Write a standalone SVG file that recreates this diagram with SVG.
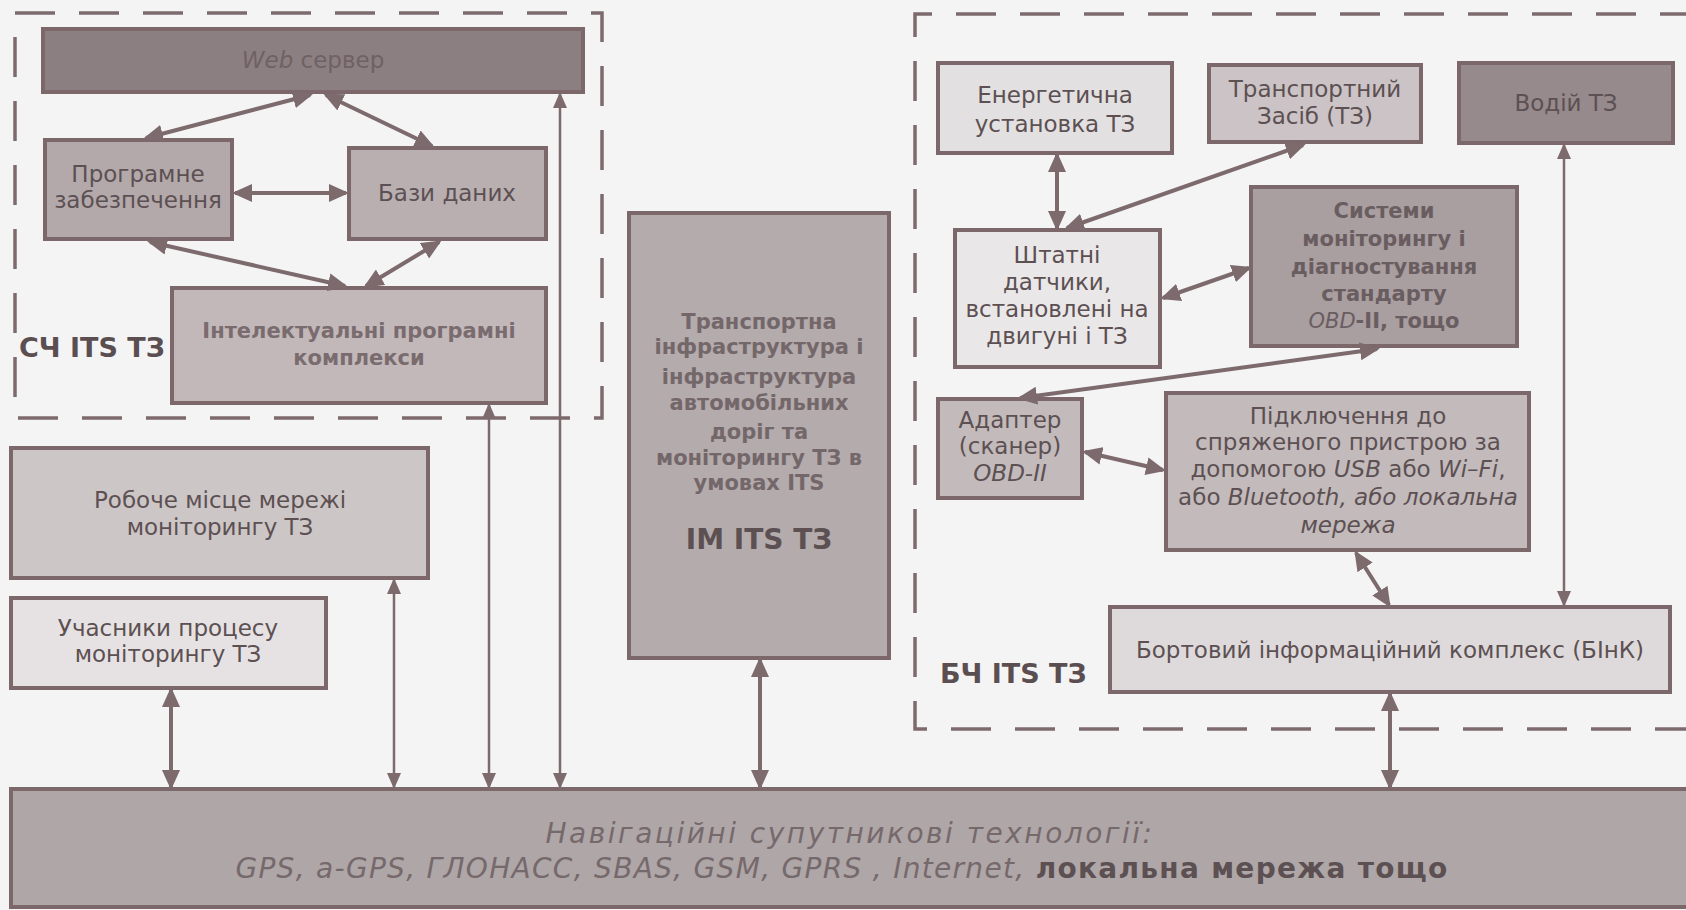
<svg xmlns="http://www.w3.org/2000/svg" width="1686" height="910" viewBox="0 0 1686 910">
<defs>
<style>
.bx{stroke:#7c686b;stroke-width:4}
.t{font-family:"DejaVu Sans","Open Sans",sans-serif;font-size:23px;fill:#5c5052;text-anchor:middle}
.bt{font-family:"DejaVu Sans","Open Sans",sans-serif;font-size:21px;font-weight:bold;text-anchor:middle}
.b{font-weight:bold}
.i{font-style:italic}
.lbl{font-family:"DejaVu Sans","Open Sans",sans-serif;font-size:27px;font-weight:bold;fill:#5a4e50}
.dash{fill:none;stroke:#7c6a6d;stroke-width:3.5;stroke-dasharray:40 24}
.k{fill:none;stroke:#7c6a6d;stroke-width:4;marker-start:url(#ah);marker-end:url(#ah)}
.n{fill:none;stroke:#7c6a6d;stroke-width:2.5;marker-start:url(#as);marker-end:url(#as)}
</style>
<marker id="ah" markerUnits="userSpaceOnUse" markerWidth="20" markerHeight="18" refX="17" refY="9" orient="auto-start-reverse"><path d="M0,0 L20,9 L0,18 z" fill="#7c6a6d"/></marker>
<marker id="as" markerUnits="userSpaceOnUse" markerWidth="16" markerHeight="14" refX="14" refY="7" orient="auto-start-reverse"><path d="M0,0 L16,7 L0,14 z" fill="#7c6a6d"/></marker>
</defs>
<rect width="1686" height="910" fill="#f5f4f5"/>

<g id="containers">
<rect class="dash" x="15" y="13" width="587" height="405"/>
<path class="dash" d="M1700,14 H915 V729 H1700"/>
<text class="lbl" x="19" y="357">СЧ ITS ТЗ</text>
<text class="lbl" x="940" y="683">БЧ ITS ТЗ</text>
</g>

<g id="web">
<rect class="bx" x="43" y="29" width="540" height="63" fill="#8c7f81"/>
<text class="t" x="313" y="68" style="fill:#6f6264"><tspan class="i">Web</tspan> сервер</text>
</g>
<g id="prog">
<rect class="bx" x="45" y="140" width="187" height="99" fill="#b3a9ab"/>
<text class="t" x="138" y="182">Програмне</text>
<text class="t" x="138" y="208">забезпечення</text>
</g>
<g id="bazy">
<rect class="bx" x="349" y="148" width="197" height="91" fill="#b9afb1"/>
<text class="t" x="447" y="201">Бази даних</text>
</g>
<g id="intel">
<rect class="bx" x="172" y="288" width="374" height="115" fill="#c2b8ba"/>
<text class="bt" x="359" y="338" style="fill:#7a6c6e">Інтелектуальні програмні</text>
<text class="bt" x="359" y="365" style="fill:#7a6c6e">комплекси</text>
</g>
<g id="robo">
<rect class="bx" x="11" y="448" width="417" height="130" fill="#cdc6c7"/>
<text class="t" x="220" y="508">Робоче місце мережі</text>
<text class="t" x="220" y="535">моніторингу ТЗ</text>
</g>
<g id="uch">
<rect class="bx" x="11" y="598" width="315" height="90" fill="#e6e2e3"/>
<text class="t" x="168" y="636">Учасники процесу</text>
<text class="t" x="168" y="662">моніторингу ТЗ</text>
</g>
<g id="im">
<rect class="bx" x="629" y="213" width="260" height="445" fill="#b3abac"/>
<g class="bt" style="fill:#74676a">
<text x="759" y="329">Транспортна</text>
<text x="759" y="354">інфраструктура і</text>
<text x="759" y="384">інфраструктура</text>
<text x="759" y="410">автомобільних</text>
<text x="759" y="439">доріг та</text>
<text x="759" y="465">моніторингу ТЗ в</text>
<text x="759" y="490">умовах ITS</text>
</g>
<text class="t b" x="759" y="549" style="font-size:28px">ІМ ITS ТЗ</text>
</g>
<g id="energ">
<rect class="bx" x="938" y="63" width="234" height="90" fill="#e3e0e1"/>
<text class="t" x="1055" y="103">Енергетична</text>
<text class="t" x="1055" y="132">установка ТЗ</text>
</g>
<g id="transp">
<rect class="bx" x="1209" y="65" width="212" height="77" fill="#cbc3c5"/>
<text class="t" x="1315" y="97">Транспортний</text>
<text class="t" x="1315" y="124">Засіб (ТЗ)</text>
</g>
<g id="vodii">
<rect class="bx" x="1459" y="63" width="214" height="80" fill="#968a8c"/>
<text class="t" x="1566" y="111">Водій ТЗ</text>
</g>
<g id="shtat">
<rect class="bx" x="955" y="230" width="205" height="137" fill="#eae7e8"/>
<text class="t" x="1057" y="263">Штатні</text>
<text class="t" x="1057" y="290">датчики,</text>
<text class="t" x="1057" y="317">встановлені на</text>
<text class="t" x="1057" y="344">двигуні і ТЗ</text>
</g>
<g id="syst">
<rect class="bx" x="1251" y="187" width="266" height="159" fill="#a99ea0"/>
<g class="bt" style="fill:#6a5d60">
<text x="1384" y="218">Системи</text>
<text x="1384" y="246">моніторингу і</text>
<text x="1384" y="274">діагностування</text>
<text x="1384" y="301">стандарту</text>
<text x="1384" y="328"><tspan class="i" style="font-weight:normal">OBD</tspan>-II, тощо</text>
</g>
</g>
<g id="adapt">
<rect class="bx" x="938" y="399" width="144" height="99" fill="#c3babc"/>
<text class="t" x="1010" y="428">Адаптер</text>
<text class="t" x="1010" y="454">(сканер)</text>
<text class="t i" x="1010" y="481">OBD-II</text>
</g>
<g id="pidk">
<rect class="bx" x="1166" y="393" width="363" height="157" fill="#c3babc"/>
<text class="t" x="1348" y="424">Підключення до</text>
<text class="t" x="1348" y="450">спряженого пристрою за</text>
<text class="t" x="1348" y="477">допомогою <tspan class="i">USB</tspan> або <tspan class="i">Wi–Fi</tspan>,</text>
<text class="t" x="1348" y="505">або <tspan class="i">Bluetooth, або локальна</tspan></text>
<text class="t i" x="1348" y="533">мережа</text>
</g>
<g id="bink">
<rect class="bx" x="1110" y="607" width="560" height="85" fill="#dedadb"/>
<text class="t" x="1390" y="658">Бортовий інформаційний комплекс (БІнК)</text>
</g>
<g id="nav">
<rect class="bx" x="11" y="789" width="1690" height="118" fill="#afa6a7"/>
<text class="t i" x="850" y="843" style="font-size:28px;fill:#76696c;letter-spacing:2.5px">Навігаційні супутникові технології:</text>
<text class="t" x="842" y="878" style="font-size:28px;fill:#76696c;letter-spacing:1.3px"><tspan class="i">GPS, a-GPS, ГЛОНАСС, SBAS, GSM, GPRS , Internet,</tspan> <tspan class="b" style="fill:#5c5052">локальна мережа тощо</tspan></text>
</g>

<g id="connectors">
<path class="k" d="M310,95 L146,138"/>
<path class="k" d="M326,95 L432,146"/>
<path class="k" d="M235,193 L346,193"/>
<path class="k" d="M150,242 L345,286"/>
<path class="k" d="M439,242 L366,286"/>
<path class="n" d="M489,405 L489,787"/>
<path class="n" d="M560,94 L560,787"/>
<path class="n" d="M394,580 L394,787"/>
<path class="k" d="M171,690 L171,787"/>
<path class="k" d="M760,660 L760,787"/>
<path class="k" d="M1390,694 L1390,787"/>
<path class="n" d="M1564,145 L1564,605"/>
<path class="k" d="M1057,155 L1057,228"/>
<path class="k" d="M1303,145 L1067,228"/>
<path class="k" d="M1163,298 L1249,268"/>
<path class="k" d="M1377,349 L1020,398"/>
<path class="k" d="M1085,452 L1163,470"/>
<path class="k" d="M1356,553 L1389,605"/>
</g>
</svg>
